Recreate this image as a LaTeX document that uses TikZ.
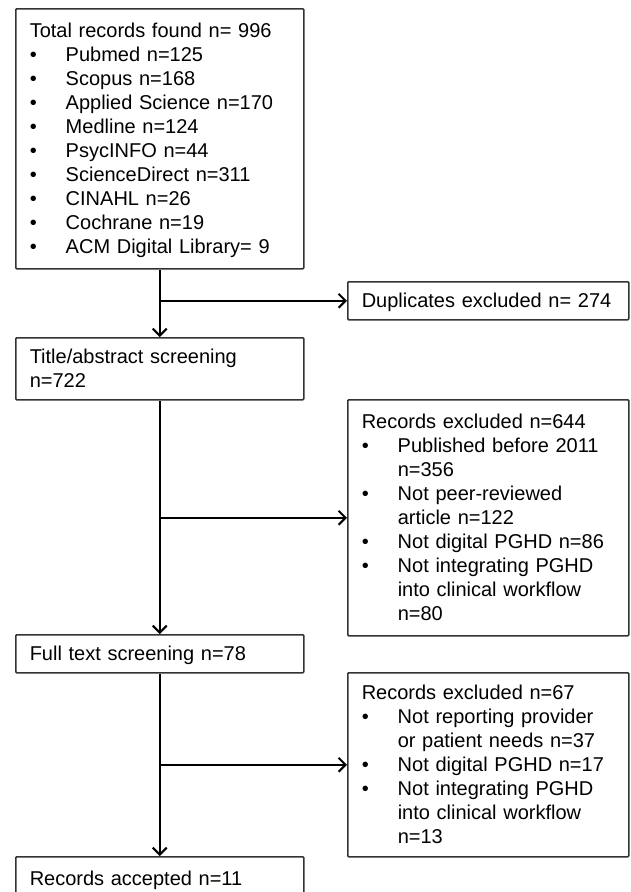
\documentclass[tikz,border=0pt]{standalone}
\usepackage{fontspec}
\setmainfont{Liberation Sans}
\usetikzlibrary{positioning,arrows.meta,calc}
\definecolor{flowLine}{HTML}{333333}
\newcommand{\flowstrut}{\rule[-5pt]{0pt}{24pt}}
\newcommand{\bul}{\makebox[36pt][l]{\textbullet}}
\newcommand{\ind}{\hspace*{36pt}}

\begin{document}
\begin{tikzpicture}[
    x=1pt, y=-1pt,
    >={Straight Barb[length=7pt,width=14pt]},
    arrow/.style={
        ->,
        line width=2.1pt,
        black,
    },
    flowbox/.style={
        rectangle,
        draw=flowLine,
        line width=1.5pt,
        rounded corners=1pt,
        anchor=north west,
        inner xsep=14pt,
        inner ysep=0pt,
        align=left,
        font=\fontsize{20}{24}\selectfont,
        execute at begin node=\flowstrut,
        execute at end node=\flowstrut,
    },
    leftbox/.style={flowbox, text width=260pt},
    rightbox/.style={flowbox, text width=253pt},
]
    \useasboundingbox (0,0) rectangle (630,892);

    % === Main column ===
    \node[leftbox, minimum height=260pt] (total) at (15,8) {Total records found n= 996\\
        \bul Pubmed n=125\\
        \bul Scopus n=168\\
        \bul Applied Science n=170\\
        \bul Medline n=124\\
        \bul PsycINFO n=44\\
        \bul ScienceDirect n=311\\
        \bul CINAHL n=26\\
        \bul Cochrane n=19\\
        \bul ACM Digital Library= 9};
    \node[leftbox, minimum height=62pt] (title) at (15,337) {Title/abstract screening\\ n=722};
    \node[leftbox, minimum height=38pt] (full) at (15,634) {Full text screening n=78};
    \node[leftbox, minimum height=44pt] (accepted) at (15,856) {Records accepted n=11};

    % === Exclusions ===
    \node[rightbox, minimum height=38pt] (dup) at (347,281) {Duplicates excluded n= 274};
    \node[rightbox, minimum height=236pt] (excl1) at (347,399) {Records excluded n=644\\
        \bul Published before 2011\\
        \ind n=356\\
        \bul Not peer-reviewed\\
        \ind article n=122\\
        \bul Not digital PGHD n=86\\
        \bul Not integrating PGHD\\
        \ind into clinical workflow\\
        \ind n=80};
    \node[rightbox, minimum height=184pt] (excl2) at (347,672) {Records excluded n=67\\
        \bul Not reporting provider\\
        \ind or patient needs n=37\\
        \bul Not digital PGHD n=17\\
        \bul Not integrating PGHD\\
        \ind into clinical workflow\\
        \ind n=13};

    % Main flow arrows
    \draw[arrow] (total) -- (title);
    \draw[arrow] (title) -- (full);
    \draw[arrow] (full) -- (accepted);

    % Side branches
    \coordinate (b1) at (total.south |- dup.west);
    \coordinate (b2) at (title.south |- excl1.west);
    \coordinate (b3) at (full.south |- excl2.west);
    \draw[arrow] (b1) -- (dup);
    \draw[arrow] (b2) -- (excl1);
    \draw[arrow] (b3) -- (excl2);

\end{tikzpicture}
\end{document}
